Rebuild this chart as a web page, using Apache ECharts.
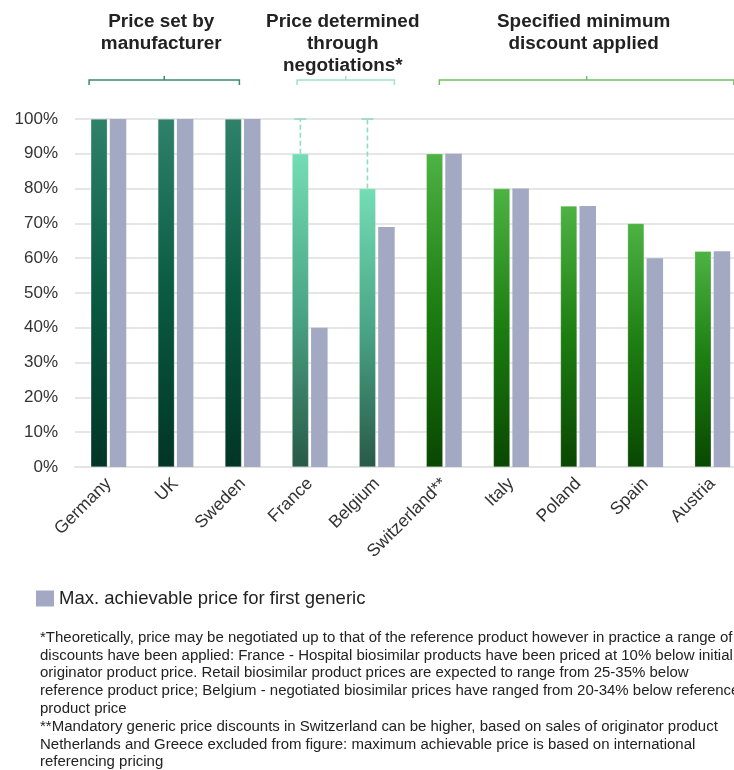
<!DOCTYPE html>
<html>
<head>
<meta charset="utf-8">
<script src="https://cdn.jsdelivr.net/npm/echarts@6/dist/echarts.min.js"></script>
<style>html,body{margin:0;padding:0;background:#fff}#c{width:734px;height:770px}</style>
</head>
<body>
<div id="c"></div>
<script>
// ---- data ----
var categories = ['Germany', 'UK', 'Sweden', 'France', 'Belgium', 'Switzerland**', 'Italy', 'Poland', 'Spain', 'Austria'];
var setPrice = [100, 100, 100, 90, 80, 90, 80, 75, 70, 62];
var maxGenericPrice = [100, 100, 100, 40, 69, 90, 80, 75, 60, 62];
var groupOf = [0, 0, 0, 1, 1, 2, 2, 2, 2, 2];
var negotiationRange = [[3, 90, 100], [4, 80, 100]];
var yTicks = [0, 10, 20, 30, 40, 50, 60, 70, 80, 90, 100];
var groupLabels = ['Price set by\nmanufacturer', 'Price determined\nthrough\nnegotiations*', 'Specified minimum\ndiscount applied'];
var groupSpans = [[-0.29, 1.95], [2.81, 4.26], [4.93, 9.32]]; // in category units
var legendLabel = 'Max. achievable price for first generic';
var footnote = [
  '*Theoretically, price may be negotiated up to that of the reference product however in practice a range of',
  'discounts have been applied: France - Hospital biosimilar products have been priced at 10% below initial',
  'originator product price. Retail biosimilar product prices are expected to range from 25-35% below',
  'reference product price; Belgium - negotiated biosimilar prices have ranged from 20-34% below reference',
  'product price',
  '**Mandatory generic price discounts in Switzerland can be higher, based on sales of originator product',
  'Netherlands and Greece excluded from figure: maximum achievable price is based on international',
  'referencing pricing'
];

// ---- styles ----
var FONT = 'Liberation Sans, Arial, sans-serif';
var groupGradients = [
  ['#2f8169', '#0a5a42', '#013526'],
  ['#74ddb5', '#4aa586', '#285a48'],
  ['#4db343', '#1c7d11', '#094702']
];
var bracketColors = ['#3a8a6e', '#9ee3c9', '#6cc163'];
var greyColor = '#a3a8c3';
var BAR_W = 16.5, BAR_GAP = 2.5;

function grad(c) {
  return new echarts.graphic.LinearGradient(0, 0, 0, 1, [
    {offset: 0, color: c[0]}, {offset: 0.5, color: c[1]}, {offset: 1, color: c[2]}
  ]);
}

var greenData = setPrice.map(function (v, i) {
  return {value: v, itemStyle: {color: grad(groupGradients[groupOf[i]])}};
});

var chart = echarts.init(document.getElementById('c'), null, {renderer: 'canvas'});

var option = {
  animation: false,
  backgroundColor: '#fff',
  textStyle: {fontFamily: FONT},
  grid: {left: 75, top: 119, width: 671, height: 348, containLabel: false, outerBoundsMode: 'none'},
  legend: {
    data: [legendLabel],
    left: 36, top: 589, padding: 0,
    icon: 'rect', itemWidth: 18, itemHeight: 16, itemGap: 6,
    textStyle: {fontSize: 18.5, color: '#222', fontFamily: FONT}
  },
  xAxis: {
    type: 'category',
    data: categories,
    axisLine: {show: true, lineStyle: {color: '#e3e3e3', width: 2}},
    axisTick: {show: false},
    axisLabel: {rotate: 45, fontSize: 17.5, color: '#333', margin: 14, interval: 0}
  },
  yAxis: {
    type: 'value',
    min: 0, max: 100, interval: 10,
    axisLine: {show: false},
    axisTick: {show: false},
    splitLine: {lineStyle: {color: '#e6e6e6', width: 2}},
    axisLabel: {formatter: '{value}%', fontSize: 17, color: '#333', margin: 17}
  },
  series: [
    {
      name: 'Set price',
      type: 'bar',
      data: greenData,
      barWidth: BAR_W,
      barGap: '15%',
      itemStyle: {borderColor: 'rgba(255,255,255,0.25)', borderWidth: 0.5}
    },
    {
      name: legendLabel,
      type: 'bar',
      data: maxGenericPrice,
      barWidth: BAR_W,
      itemStyle: {color: greyColor}
    },
    {
      name: 'Negotiation range',
      type: 'custom',
      data: negotiationRange,
      z: 5,
      renderItem: function (params, api) {
        var lo = api.coord([api.value(0), api.value(1)]);
        var hi = api.coord([api.value(0), api.value(2)]);
        var x = lo[0] - (BAR_W + BAR_GAP) / 2;
        var col = '#8fdcc0';
        return {
          type: 'group',
          children: [
            {type: 'line', shape: {x1: x, y1: lo[1], x2: x, y2: hi[1]},
             style: {stroke: col, lineWidth: 1.6, lineDash: [5, 3]}},
            {type: 'line', shape: {x1: x - 6, y1: hi[1], x2: x + 6, y2: hi[1]},
             style: {stroke: col, lineWidth: 1.6}}
          ]
        };
      }
    }
  ]
};
chart.setOption(option);

// annotations positioned from the category axis
var c0 = chart.convertToPixel({xAxisIndex: 0}, 0);
var step = chart.convertToPixel({xAxisIndex: 0}, 1) - c0;
var graphics = [];
var bracketY = 80;
groupSpans.forEach(function (s, g) {
  var x0 = c0 + s[0] * step;
  var x1 = c0 + s[1] * step;
  var mid = (x0 + x1) / 2;
  graphics.push({
    type: 'polyline',
    shape: {points: [[x0, bracketY + 5], [x0, bracketY], [x1, bracketY], [x1, bracketY + 5]]},
    style: {stroke: bracketColors[g], lineWidth: 1.5, fill: null}
  });
  graphics.push({
    type: 'line',
    shape: {x1: mid, y1: bracketY, x2: mid, y2: bracketY - 4},
    style: {stroke: bracketColors[g], lineWidth: 1.5}
  });
  graphics.push({
    type: 'text',
    x: mid - 3, y: 11, scaleX: 1.08,
    style: {
      text: groupLabels[g], fontSize: 17.5, fontWeight: 'bold', fill: '#222',
      align: 'center', verticalAlign: 'top', lineHeight: 22,
      fontFamily: FONT
    }
  });
});
graphics.push({
  type: 'text',
  x: 40, y: 629, scaleX: 1.07,
  style: {
    text: footnote.join('\n'), fontSize: 14, fill: '#222', lineHeight: 17.8,
    align: 'left', verticalAlign: 'top',
    fontFamily: FONT
  }
});
chart.setOption({graphic: graphics});
</script>
</body>
</html>
